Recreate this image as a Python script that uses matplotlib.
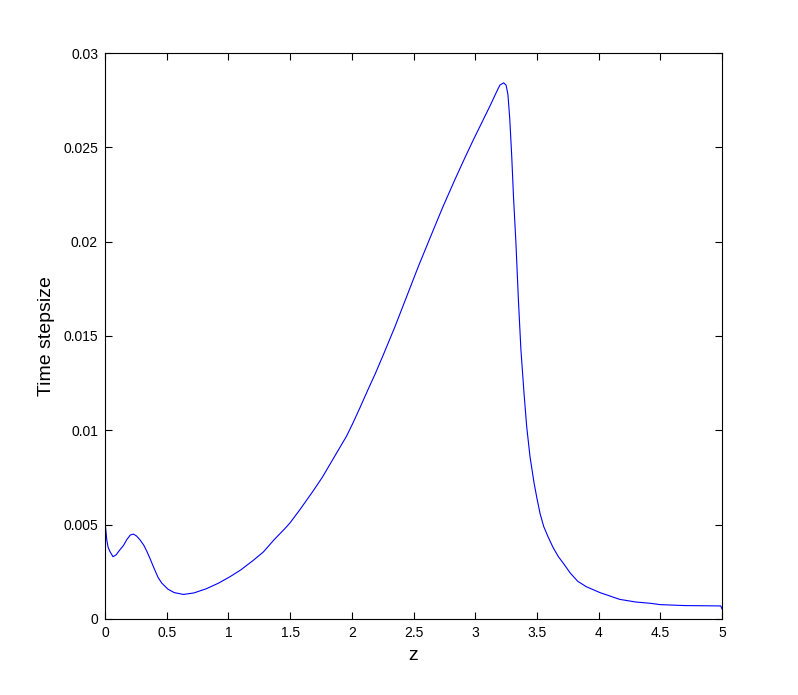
import matplotlib
matplotlib.use("Agg")
import matplotlib.pyplot as plt

# z and time stepsize
z = [0.000, 0.007, 0.014, 0.025, 0.040, 0.065, 0.090, 0.120, 0.150, 0.176,
     0.205, 0.230, 0.255, 0.284, 0.315, 0.340, 0.365, 0.390, 0.430, 0.460,
     0.510, 0.560, 0.635, 0.720, 0.820, 0.920, 1.013, 1.100, 1.200, 1.283,
     1.370, 1.459, 1.500, 1.580, 1.688, 1.760, 1.823, 1.904, 1.958, 2.010,
     2.066, 2.134, 2.190, 2.255, 2.350, 2.445, 2.540, 2.634, 2.735, 2.836,
     2.920, 2.985, 3.060, 3.120, 3.170, 3.200, 3.230, 3.250, 3.265, 3.280,
     3.296, 3.310, 3.330, 3.350, 3.370, 3.395, 3.417, 3.444, 3.477, 3.500,
     3.525, 3.555, 3.590, 3.630, 3.674, 3.720, 3.768, 3.830, 3.900, 4.010,
     4.170, 4.300, 4.420, 4.500, 4.700, 4.850, 4.990, 5.000]
stepsize = [0.00516, 0.0047, 0.0042, 0.0038, 0.00357, 0.0033, 0.0034, 0.00366, 0.0039, 0.0042,
            0.00445, 0.0045, 0.0044, 0.00419, 0.0039, 0.00357, 0.0032, 0.0028, 0.0022, 0.0019,
            0.00158, 0.0014, 0.0013, 0.00138, 0.0016, 0.0019, 0.00224, 0.0026, 0.0031, 0.00355,
            0.0042, 0.0048, 0.0051, 0.0058, 0.0068, 0.0075, 0.0082, 0.0091, 0.0097, 0.0104,
            0.0112, 0.0122, 0.0130, 0.0140, 0.0155, 0.0171, 0.0187, 0.0202, 0.0218, 0.0233,
            0.0245, 0.0254, 0.0264, 0.0272, 0.0279, 0.0283, 0.02842, 0.0283, 0.0278, 0.0265,
            0.0245, 0.0224, 0.0199, 0.0169, 0.0143, 0.0120, 0.0102, 0.0086, 0.0072, 0.0064,
            0.0056, 0.0049, 0.00436, 0.0038, 0.0033, 0.0029, 0.00245, 0.0020, 0.00171, 0.0014,
            0.00104, 0.0009, 0.00083, 0.00076, 0.00071, 0.0007, 0.00069, 0.00053]

x_ticks = [0, 0.5, 1, 1.5, 2, 2.5, 3, 3.5, 4, 4.5, 5]
x_tick_labels = ["0", "0.5", "1", "1.5", "2", "2.5", "3", "3.5", "4", "4.5", "5"]
y_ticks = [0, 0.005, 0.01, 0.015, 0.02, 0.025, 0.03]
y_tick_labels = ["0", "0.005", "0.01", "0.015", "0.02", "0.025", "0.03"]

plt.rcParams["font.family"] = ["Liberation Sans", "DejaVu Sans"]

fig = plt.figure(figsize=(7.98, 6.95), dpi=100)
ax = fig.add_axes([0.1316, 0.1094, 0.9048 - 0.1316, 0.9237 - 0.1094])

ax.plot(z, stepsize, color="blue", linewidth=0.8)

ax.set_xlim(0, 5)
ax.set_ylim(0, 0.03)
ax.set_xticks(x_ticks)
ax.set_xticklabels(x_tick_labels)
ax.set_yticks(y_ticks)
ax.set_yticklabels(y_tick_labels)
ax.tick_params(direction="in", top=True, right=True, length=5, width=0.8,
               labelsize=10, pad=5)
for s in ax.spines.values():
    s.set_linewidth(0.8)

ax.set_xlabel("z", fontsize=14, labelpad=5)
ax.set_ylabel("Time stepsize", fontsize=14, labelpad=6)

fig.savefig("out.png", dpi=100)
plt.close(fig)
